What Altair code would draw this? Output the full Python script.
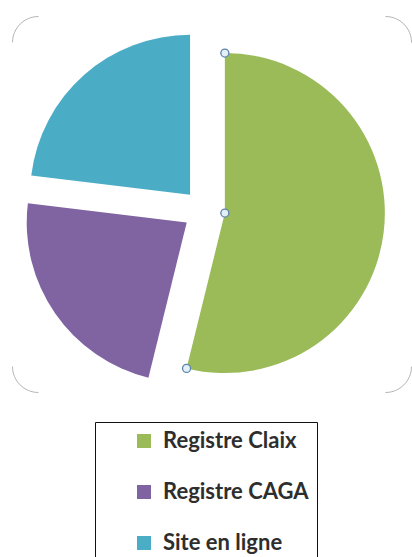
import math
import altair as alt
import pandas as pd

# ---- data ----
categories = ["Registre Claix", "Registre CAGA", "Site en ligne"]
values = [7, 3, 3]
colors = ["#9BBB59", "#8064A2", "#4BACC6"]

df = pd.DataFrame({"cat": categories, "value": values, "order": list(range(len(categories)))})

# ---- layout / style ----
W, H = 399, 376
CX, CY = 192, 194.5   # pie centre inside the plot area (px)
R = 160               # pie radius
D = 21                # explode distance
CR = 26               # frame corner radius
L1, L2, A = W - 2 * CR, H - 2 * CR, math.pi * CR / 2

base = (
    alt.Chart(df)
    .transform_window(cum="sum(value)", sort=[alt.SortField("order")], frame=[None, 0])
    .transform_joinaggregate(total="sum(value)")
    .transform_calculate(
        a0="(datum.cum - datum.value) / datum.total * 2 * PI",
        a1="datum.cum / datum.total * 2 * PI",
    )
    .transform_calculate(mid="(datum.a0 + datum.a1) / 2")
    .transform_calculate(
        px=f"{CX} + {D} * sin(datum.mid)",
        py=f"{CY} - {D} * cos(datum.mid)",
    )
    .transform_calculate(
        sx=f"datum.px + {R} * sin(datum.a0)",
        sy=f"datum.py - {R} * cos(datum.a0)",
        ex=f"datum.px + {R} * sin(datum.a1)",
        ey=f"datum.py - {R} * cos(datum.a1)",
    )
)

pie = base.mark_arc(radius=R).encode(
    theta=alt.Theta("a0:Q", scale=None, stack=None),
    theta2="a1:Q",
    x=alt.X("px:Q", scale=None, axis=None),
    y=alt.Y("py:Q", scale=None, axis=None),
    color=alt.Color(
        "cat:N",
        scale=alt.Scale(domain=categories, range=colors),
        legend=alt.Legend(
            title=None,
            orient="none",
            legendX=83,
            legendY=406,
            padding=8,
            strokeColor="#111",
            fillColor="white",
            symbolType="square",
            symbolSize=196,
            symbolStrokeWidth=0,
            symbolOffset=30,
            labelFont="Lato",
            labelFontSize=22,
            labelFontWeight="bold",
            labelColor="#2e2e2e",
            labelOffset=8,
            rowPadding=29,
        ),
    ),
)

handle_style = dict(shape="circle", size=64, filled=True, fill="#e3f1f6",
                    stroke="#5d84ad", strokeWidth=1.3, opacity=1)
sel = base.transform_filter("datum.order == 0")
h1 = sel.mark_point(**handle_style).encode(
    x=alt.X("px:Q", scale=None, axis=None), y=alt.Y("py:Q", scale=None, axis=None))
h2 = sel.mark_point(**handle_style).encode(
    x=alt.X("sx:Q", scale=None, axis=None), y=alt.Y("sy:Q", scale=None, axis=None))
h3 = sel.mark_point(**handle_style).encode(
    x=alt.X("ex:Q", scale=None, axis=None), y=alt.Y("ey:Q", scale=None, axis=None))

chart = (
    alt.layer(pie, h1, h2, h3)
    .properties(
        width=W,
        height=H,
        autosize=alt.AutoSizeParams(type="none"),
        padding={"left": 12, "top": 16, "right": 1, "bottom": 165},
        background="white",
    )
    .configure_view(
        stroke="#b5b5b5",
        strokeWidth=1,
        cornerRadius=CR,
        strokeDash=[0, L1, A, L2, A, L1, A, L2, A],
    )
)

chart.save("out.html", embed_options={"renderer": "svg", "actions": False})
